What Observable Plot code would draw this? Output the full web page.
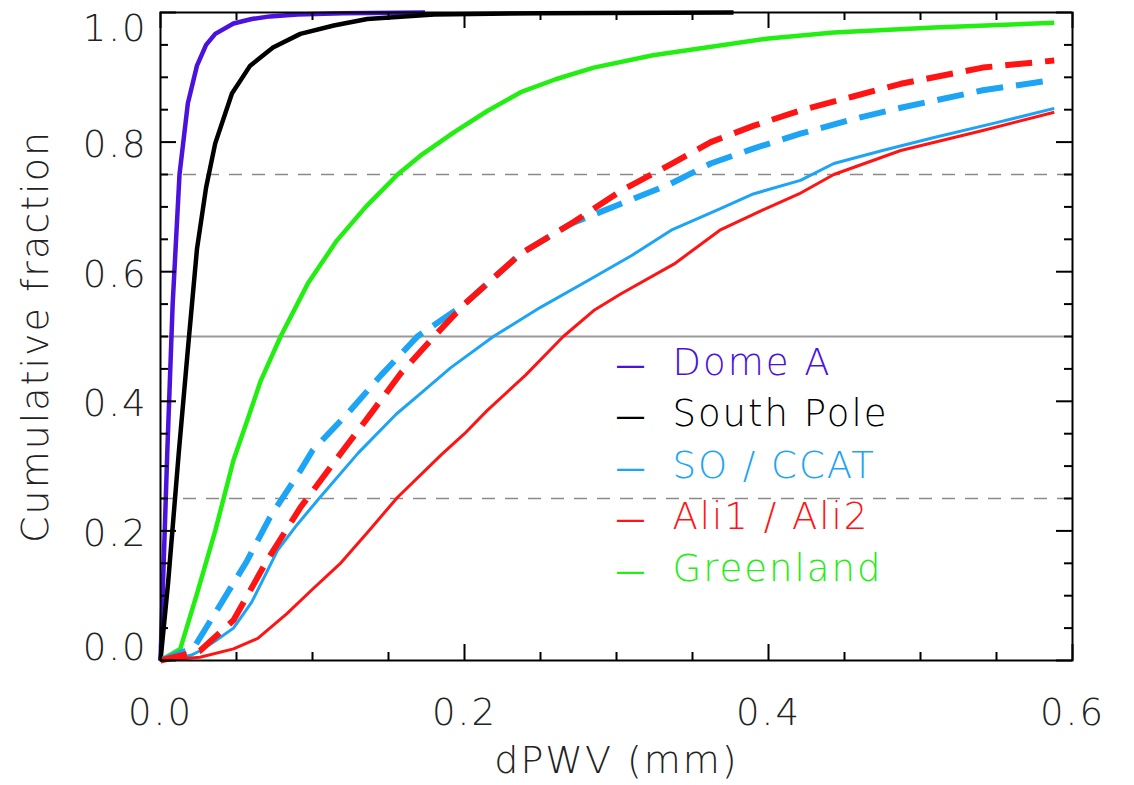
<!DOCTYPE html>
<html>
<head>
<meta charset="utf-8">
<script src="https://cdn.jsdelivr.net/npm/d3@7"></script>
<script src="https://cdn.jsdelivr.net/npm/@observablehq/plot@0.6"></script>
<style>
  html, body { margin: 0; padding: 0; background: #fff; }
  #chart svg { display: block; }
  #chart svg text { letter-spacing: 2px; }
</style>
</head>
<body>
<div id="chart"></div>
<script>
// ---- Data ----
const xTicks = [0, 0.2, 0.4, 0.6];
const yTicks = [0, 0.2, 0.4, 0.6, 0.8, 1.0];
const xMinorTicks = [0.05, 0.1, 0.15, 0.25, 0.3, 0.35, 0.45, 0.5, 0.55];
const yMinorTicks = [0.05, 0.1, 0.15, 0.25, 0.3, 0.35, 0.45, 0.5, 0.55, 0.65, 0.7, 0.75, 0.85, 0.9, 0.95];
const quartileLines = [0.25, 0.75];
const medianLine = [0.5];
const xLabel = "dPWV (mm)";
const yLabel = "Cumulative fraction";

const domeA = [[0,0],[0.0045,0.324],[0.008,0.55],[0.0125,0.75],[0.018,0.86],[0.024,0.918],[0.03,0.95],[0.036,0.967],[0.048,0.983],[0.06,0.99],[0.072,0.994],[0.09,0.997],[0.12,0.999],[0.174,1.0]];
const southPole = [[0,0],[0.005,0.12],[0.012,0.32],[0.018,0.48],[0.024,0.635],[0.03,0.73],[0.036,0.798],[0.047,0.875],[0.059,0.918],[0.074,0.946],[0.092,0.967],[0.114,0.98],[0.136,0.99],[0.18,0.997],[0.25,0.999],[0.377,1.0]];
const greenland = [[0,0],[0.013,0.018],[0.024,0.103],[0.036,0.2],[0.048,0.309],[0.057,0.37],[0.066,0.432],[0.079,0.5],[0.097,0.582],[0.116,0.648],[0.135,0.7],[0.156,0.75],[0.171,0.779],[0.193,0.815],[0.215,0.848],[0.237,0.877],[0.26,0.897],[0.285,0.915],[0.324,0.934],[0.368,0.949],[0.4,0.96],[0.443,0.969],[0.509,0.977],[0.588,0.984]];
const so = [[0,0],[0.02,0.008],[0.026,0.015],[0.036,0.03],[0.048,0.05],[0.06,0.09],[0.077,0.17],[0.09,0.21],[0.105,0.252],[0.13,0.32],[0.155,0.38],[0.171,0.412],[0.191,0.452],[0.219,0.5],[0.25,0.545],[0.281,0.586],[0.31,0.625],[0.336,0.664],[0.368,0.697],[0.39,0.72],[0.421,0.741],[0.443,0.767],[0.475,0.787],[0.509,0.807],[0.55,0.83],[0.588,0.852]];
const ccat = [[0,0],[0.022,0.02],[0.037,0.077],[0.057,0.154],[0.072,0.221],[0.092,0.293],[0.1,0.324],[0.123,0.381],[0.145,0.44],[0.169,0.5],[0.2,0.55],[0.237,0.628],[0.27,0.674],[0.303,0.705],[0.335,0.735],[0.362,0.767],[0.39,0.79],[0.421,0.813],[0.455,0.835],[0.487,0.853],[0.541,0.88],[0.588,0.896]];
const ali1 = [[0,0],[0.026,0.005],[0.048,0.018],[0.064,0.034],[0.083,0.072],[0.1,0.11],[0.118,0.149],[0.137,0.2],[0.156,0.252],[0.185,0.318],[0.2,0.35],[0.215,0.386],[0.24,0.44],[0.265,0.5],[0.285,0.54],[0.303,0.566],[0.338,0.612],[0.368,0.664],[0.395,0.694],[0.42,0.72],[0.443,0.75],[0.487,0.787],[0.541,0.818],[0.588,0.846]];
const ali2 = [[0,0],[0.026,0.015],[0.048,0.062],[0.07,0.154],[0.092,0.236],[0.12,0.324],[0.14,0.386],[0.158,0.443],[0.18,0.5],[0.2,0.55],[0.237,0.628],[0.27,0.674],[0.303,0.725],[0.335,0.765],[0.362,0.8],[0.39,0.825],[0.421,0.849],[0.455,0.87],[0.487,0.89],[0.541,0.915],[0.588,0.926]];

const legendNames = ["Dome A", "South Pole", "SO / CCAT", "Ali1 / Ali2", "Greenland"];
const legendColors = ["#4a12dc", "#000000", "#1ea4f5", "#ff1414", "#22ee11"];

// ---- Series styles ----
const series = [
  {data: domeA,     stroke: legendColors[0], width: 4.5, dash: null},
  {data: southPole, stroke: legendColors[1], width: 4.5, dash: null},
  {data: greenland, stroke: legendColors[4], width: 4.5, dash: null},
  {data: so,        stroke: legendColors[2], width: 3,   dash: null},
  {data: ali1,      stroke: legendColors[3], width: 3,   dash: null},
  {data: ccat,      stroke: legendColors[2], width: 6,   dash: "27,13"},
  {data: ali2,      stroke: legendColors[3], width: 6,   dash: "27,13"}
];

const W = 1134, H = 785;
const mL = 160, mR = 62, mT = 12, mB = 125;
const frameW = W - mL - mR, frameH = H - mT - mB;
const font = "'DejaVu Sans', sans-serif";
const fs = 37;
const fw = 300;
const major = 16, minor = 8;
const fmt = d3.format(".1f");
const yAxisOpts = {tickSize: 0, tickPadding: 13, tickFormat: fmt, fontSize: fs, fontWeight: fw, label: null, fill: "#222"};

const marks = [
  Plot.ruleY(quartileLines, {stroke: "#8a8a8a", strokeWidth: 1.5, strokeDasharray: "13,10"}),
  Plot.ruleY(medianLine, {stroke: "#9a9a9a", strokeWidth: 2}),
  ...series.map(s => Plot.line(s.data, {
    x: d => d[0], y: d => d[1], stroke: s.stroke, strokeWidth: s.width,
    strokeDasharray: s.dash, strokeLinejoin: "round", strokeLinecap: "butt"
  })),
  // inward ticks on all four sides
  Plot.tickX(xTicks, {x: d => d, insetTop: frameH - major, stroke: "black", strokeWidth: 2}),
  Plot.tickX(xTicks, {x: d => d, insetBottom: frameH - major, stroke: "black", strokeWidth: 2}),
  Plot.tickX(xMinorTicks, {x: d => d, insetTop: frameH - minor, stroke: "black", strokeWidth: 2}),
  Plot.tickX(xMinorTicks, {x: d => d, insetBottom: frameH - minor, stroke: "black", strokeWidth: 2}),
  Plot.tickY(yTicks, {y: d => d, insetRight: frameW - major, stroke: "black", strokeWidth: 2}),
  Plot.tickY(yTicks, {y: d => d, insetLeft: frameW - major, stroke: "black", strokeWidth: 2}),
  Plot.tickY(yMinorTicks, {y: d => d, insetRight: frameW - minor, stroke: "black", strokeWidth: 2}),
  Plot.tickY(yMinorTicks, {y: d => d, insetLeft: frameW - minor, stroke: "black", strokeWidth: 2}),
  Plot.frame({stroke: "black", strokeWidth: 2}),
  Plot.axisX(xTicks, {tickSize: 0, tickPadding: 38, tickFormat: fmt, fontSize: fs, fontWeight: fw, label: null, fill: "#222"}),
  Plot.axisY(yTicks.slice(1, -1), {...yAxisOpts, dy: 3}),
  Plot.axisY(yTicks.slice(0, 1), {...yAxisOpts, dy: -12}),
  Plot.axisY(yTicks.slice(-1), {...yAxisOpts, dy: 17}),
  Plot.text([xLabel], {frameAnchor: "bottom", dy: 112, fontSize: 38, fontWeight: fw, fill: "#222"}),
  Plot.text([yLabel], {frameAnchor: "left", dx: -125, rotate: -90, textAnchor: "middle", fontSize: 38, fontWeight: fw, fill: "#222"}),
  // legend
  ...legendNames.flatMap((name, i) => [
    Plot.text(["—"], {frameAnchor: "top-left", dx: 471, dy: 341 + i * 51.5, textAnchor: "middle", fill: legendColors[i], fontSize: 30, fontWeight: 400}),
    Plot.text([name], {frameAnchor: "top-left", dx: 512, dy: 336 + i * 51.5, textAnchor: "start", fill: legendColors[i], fontSize: fs, fontWeight: fw})
  ])
];

const chart = Plot.plot({
  width: W, height: H,
  marginLeft: mL, marginRight: mR, marginTop: mT, marginBottom: mB,
  style: {fontFamily: font, background: "white", overflow: "visible"},
  x: {domain: [0, 0.6]},
  y: {domain: [0, 1]},
  marks
});
document.getElementById("chart").appendChild(chart);
</script>
</body>
</html>
